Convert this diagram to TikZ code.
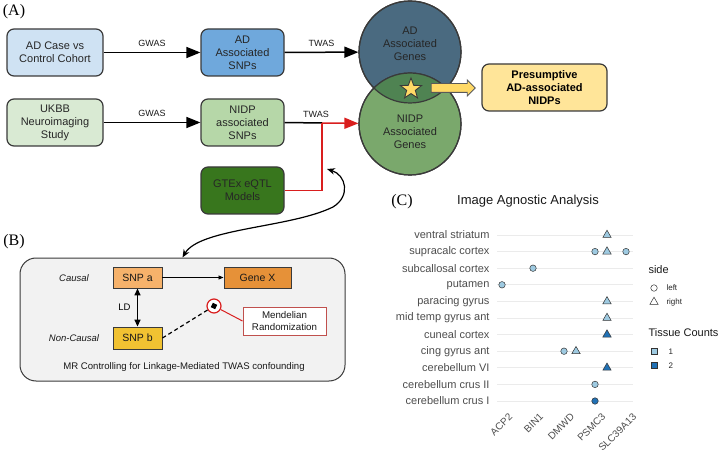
\documentclass[tikz,border=0pt]{standalone}
\usepackage{fontspec}
\setmainfont{Liberation Sans}
\newfontfamily\panelfont{Liberation Serif}
\usetikzlibrary{arrows.meta,shapes.geometric,shapes.arrows}

\definecolor{boxline}{HTML}{3A3A3A}
\definecolor{adcase}{HTML}{CFE2F3}
\definecolor{adsnp}{HTML}{6FA8DC}
\definecolor{ukbb}{HTML}{D9EAD3}
\definecolor{nidpsnp}{HTML}{B6D7A8}
\definecolor{gtex}{HTML}{38761D}
\definecolor{adgene}{HTML}{4A6A80}
\definecolor{nidpgene}{HTML}{7AA86C}
\definecolor{overlap}{HTML}{4F8352}
\definecolor{staryellow}{HTML}{FFD966}
\definecolor{resultbox}{HTML}{FFE599}
\definecolor{twasred}{HTML}{D91E1E}
\definecolor{panelbg}{HTML}{F2F2F2}
\definecolor{snpa}{HTML}{F6B26B}
\definecolor{genex}{HTML}{E69138}
\definecolor{snpb}{HTML}{F1C232}
\definecolor{mrred}{HTML}{C0504D}
\definecolor{gridgray}{HTML}{EBEBEB}
\definecolor{axistext}{HTML}{4D4D4D}
\definecolor{countlow}{HTML}{9ECAE1}
\definecolor{counthigh}{HTML}{2171B5}
\definecolor{ptline}{HTML}{333333}

\newcommand\fsz[2]{\fontsize{#1}{#2}\selectfont}

\begin{document}
\begin{tikzpicture}[x=1pt,y=-1pt,
  flowbox/.style={draw=boxline, line width=1.2pt, rounded corners=7pt, align=center,
    minimum height=47pt, inner sep=2pt, font=\fsz{11}{13}, text=black!85},
  widebox/.style={flowbox, minimum width=96pt},
  narrowbox/.style={flowbox, minimum width=83pt},
  bigarrow/.style={line width=1.5pt, -{Triangle[length=14pt,width=11pt]}},
  steplabel/.style={font=\fsz{9}{11}, text=black!90},
  genecircle/.style={circle, draw=boxline, line width=1.2pt, minimum size=102pt, inner sep=0pt},
  circletext/.style={align=center, font=\fsz{11}{13}, text=black!85},
  panellabel/.style={font=\panelfont\fsz{16}{18}},
  snpbox/.style={draw=boxline, line width=0.9pt, minimum height=21pt, inner sep=1pt,
    font=\fsz{10.5}{12}, text=black!90},
  sidenote/.style={font=\itshape\fsz{9.5}{11}, text=black!90},
  rowlabel/.style={anchor=east, font=\fsz{11}{13}, text=axistext},
  genelabel/.style={anchor=north east, rotate=45, font=\fsz{10}{12}, text=axistext, inner sep=1pt},
  dotc/.style={circle, draw=ptline, line width=0.5pt, minimum size=6.5pt, inner sep=0pt},
  dott/.style={regular polygon, regular polygon sides=3, draw=ptline, line width=0.5pt,
    minimum size=9.6pt, inner sep=0pt},
  dots/.style={rectangle, draw=ptline, line width=0.5pt, minimum size=6pt, inner sep=0pt},
  legtext/.style={anchor=west, font=\fsz{8}{10}, text=black!85},
  legtitle/.style={anchor=west, font=\fsz{11}{13}, text=black!90}
]
\useasboundingbox (0,0) rectangle (720,465);

% ---------- Panel A: TWAS workflow ----------
\node[panellabel] (lblA) at (14,12) {(A)};

\node[widebox, fill=adcase] (adcase) at (55,52.5) {AD Case vs\\Control Cohort};
\node[narrowbox, fill=adsnp] (adsnp) at (242.5,52.5) {AD\\Associated\\SNPs};
\node[widebox, fill=ukbb] (ukbb) at (55,122.5) {UKBB\\Neuroimaging\\Study};
\node[narrowbox, fill=nidpsnp] (nidpsnp) at (242.5,122.5) {NIDP\\associated\\SNPs};
\node[narrowbox, fill=gtex] (gtex) at (242.5,190.5) {GTEx eQTL\\Models};

% gene-set circles and their overlap
\node[genecircle, fill=adgene] (adgenes) at (410,52) {};
\node[genecircle, fill=nidpgene] (nidpgenes) at (410,124) {};
\begin{scope}
  \clip (adgenes.center) circle (51);
  \fill[overlap] (nidpgenes.center) circle (51);
\end{scope}
\draw[boxline, line width=1.2pt] (adgenes.center) circle (51);
\draw[boxline, line width=1.2pt] (nidpgenes.center) circle (51);
\node[circletext] (adtext) at (410,44) {AD\\Associated\\Genes};
\node[circletext] (nidptext) at (410,132) {NIDP\\Associated\\Genes};

\node[star, star points=5, star point ratio=2.4, minimum size=22pt, inner sep=0pt,
      fill=staryellow, draw=boxline, line width=0.9pt] (overlapstar) at (411,89) {};

\node[single arrow, single arrow head extend=3.5pt, inner sep=4pt, minimum height=44pt,
      fill=staryellow, draw=black!65, line width=0.9pt] (yieldarrow) at (451,88) {};

\node[draw=boxline, line width=1.2pt, rounded corners=7pt, fill=resultbox,
      minimum width=125pt, minimum height=47pt, align=center,
      font=\bfseries\fsz{11}{13}] (result) at (544.5,87.5)
      {Presumptive\\AD-associated\\NIDPs};

% workflow arrows
\draw[bigarrow] (adcase) -- node[steplabel, above=2pt] {GWAS} (adsnp);
\draw[bigarrow] (adsnp) -- node[steplabel, above=2pt] {TWAS} (adgenes);
\draw[bigarrow] (ukbb) -- node[steplabel, above=2pt] {GWAS} (nidpsnp);
\coordinate (twasjoin) at (322,123);
\draw[line width=1.5pt] (nidpsnp.east) -- (twasjoin);
\node[steplabel] (twaslow) at (316,114) {TWAS};
\draw[bigarrow, twasred, -{Triangle[length=14pt,width=11pt]}] (twasjoin) -- (nidpgenes);
\draw[twasred, line width=1.5pt] (gtex.east) -| (twasjoin);

% ---------- Panel B: Mendelian randomization ----------
\node[panellabel] (lblB) at (14,242) {(B)};
\node[draw=boxline, line width=1pt, fill=panelbg, rounded corners=16pt,
      minimum width=325pt, minimum height=123pt] (bpanel) at (182.5,319.5) {};

\coordinate (gtexlink) at (327,169);
\draw[line width=1.2pt, {Stealth[length=8pt,width=6.5pt]}-{Stealth[length=8pt,width=6.5pt]}]
  (gtexlink) .. controls (346,175) and (351,196) .. (333,207)
  .. controls (290,228) and (200,228) .. (bpanel.north);

\node[snpbox, fill=snpa, minimum width=49pt] (snpa) at (137.5,277.5) {SNP a};
\node[snpbox, fill=genex, minimum width=67pt] (genex) at (257.5,277.5) {Gene X};
\node[snpbox, fill=snpb, minimum width=49pt, minimum height=22pt] (snpb) at (137.5,338) {SNP b};
\node[sidenote] (causal) at (74,278) {Causal};
\node[sidenote] (noncausal) at (74,338) {Non-Causal};

\draw[line width=0.8pt, -{Triangle[length=5pt,width=4pt]}] (snpa) -- (genex);
\draw[line width=1.5pt, {Triangle[length=7pt,width=6pt]}-{Triangle[length=7pt,width=6pt]}]
  (snpa) -- node[left=3pt, font=\fsz{9.5}{11}] {LD} (snpb);

\node[circle, draw=twasred, line width=1.2pt, fill=white, minimum size=14pt, inner sep=0pt] (mrdot) at (214,306) {};
\node[diamond, fill=black, minimum size=7pt, inner sep=0pt, rotate=20] (mrmark) at (214,306) {};
\draw[line width=1.2pt, dash pattern=on 4pt off 3pt] (snpb.east) -- (mrdot);

\node[draw=mrred, line width=1pt, fill=white, minimum width=83pt, minimum height=28pt,
      align=center, font=\fsz{9.75}{11.5}, text=black!90] (mendel) at (284.5,321)
      {Mendelian\\Randomization};
\draw[twasred, line width=1pt] (mrdot) -- (mendel.west);

\node[font=\fsz{9.6}{11}, text=black!90] (mrcaption) at (184,367)
  {MR Controlling for Linkage-Mediated TWAS confounding};

% ---------- Panel C: image agnostic analysis ----------
\node[panellabel] (lblC) at (402,202) {(C)};
\node[font=\fsz{13}{15}, text=black!90] (ctitle) at (528,201) {Image Agnostic Analysis};

\foreach \lab [count=\i from 0] in {ventral striatum, supracalc cortex, subcallosal cortex,
    putamen, paracing gyrus, mid temp gyrus ant, cuneal cortex, cing gyrus ant,
    cerebellum VI, cerebellum crus II, cerebellum crus I} {
  \pgfmathsetmacro\yy{235+16.6*\i}
  \draw[gridgray, line width=1pt] (497,\yy) -- (633,\yy);
  \node[rowlabel] at (493,\yy) {\lab};
}

\foreach \g/\xx in {ACP2/508, BIN1/539, DMWD/570, PSMC3/601, SLC39A13/632}
  \node[genelabel] at (\xx,411) {\g};

% data points: left = circle (x-6), right = triangle (x+6)
\node[dott, fill=countlow] at (607,235) {};
\node[dotc, fill=countlow] at (595,251.6) {};
\node[dott, fill=countlow] at (607,251.6) {};
\node[dotc, fill=countlow] at (626,251.6) {};
\node[dotc, fill=countlow] at (533,268.2) {};
\node[dotc, fill=countlow] at (502,284.8) {};
\node[dott, fill=countlow] at (607,301.4) {};
\node[dott, fill=countlow] at (607,318) {};
\node[dott, fill=counthigh] at (607,334.6) {};
\node[dotc, fill=countlow] at (564,351.2) {};
\node[dott, fill=countlow] at (576,351.2) {};
\node[dott, fill=counthigh] at (607,367.8) {};
\node[dotc, fill=countlow] at (595,384.4) {};
\node[dotc, fill=counthigh] at (595,401) {};

% legends
\node[legtitle] (sidetitle) at (645,270) {side};
\node[dotc] (legleft) at (654,288) {};
\node[legtext] at (663,288) {left};
\node[dott] (legright) at (654,302) {};
\node[legtext] at (663,302) {right};
\node[legtitle] (counttitle) at (645,333) {Tissue Counts};
\node[dots, fill=countlow] (legone) at (654,351.5) {};
\node[legtext] at (665,351.5) {1};
\node[dots, fill=counthigh] (legtwo) at (654,365.5) {};
\node[legtext] at (665,365.5) {2};

\end{tikzpicture}
\end{document}
